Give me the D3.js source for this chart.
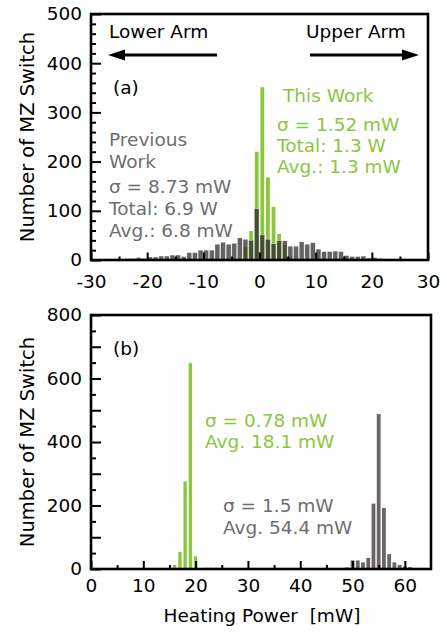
<!DOCTYPE html>
<html><head><meta charset="utf-8">
<script src="https://cdn.jsdelivr.net/npm/d3@7"></script>
<style>
body{margin:0;background:#fff;}
svg{display:block;font-family:"DejaVu Sans",sans-serif;}
</style></head><body>
<svg id="c" width="447" height="633"></svg>
<script>
// ---------- data (a): heating power difference, 1 mW bins (left edges) ----------
const binEdgesA = [-30,-29,-28,-27,-26,-25,-24,-23,-22,-21,-20,-19,-18,-17,-16,-15,-14,-13,-12,-11,
  -10,-9,-8,-7,-6,-5,-4,-3,-2,-1,0,1,2,3,4,5,6,7,8,9,10,11,12,13,14,15,16,17,18,19,
  20,21,22,23,24,25,26,27,28,29];
const prevWorkA = [0,2,2,0,2,2,3,3,5,3, 6,6,8,8,10, 10,7,15,15,20,
  20,20,32,36,32, 34,45,42,40,104, 51,42,33,39,39, 28,28,37,32,35,
  22,17,17,18,17, 9,7,7,8,4, 5,3,2,2,2, 2,0,1,2,0];
const thisWorkBinsA = [-3,-2,-1,0,1,2,3,4,5,7];
const thisWorkA = [27,59,220,351,168,108,53,30,6,2];
const xTicksA = [-30,-20,-10,0,10,20,30];
const yTicksA = [0,100,200,300,400,500];

// ---------- data (b): heating power, 1 mW bins (centres) ----------
const thisWorkPosB = [16,17,18,19,20,22,23,24,27];
const thisWorkB = [13,54,276,649,40,4,4,4,3];
const prevWorkPosB = [43,49,50,51,52,53,54,55,56,57,58,59,60,61];
const prevWorkB = [3,5,27,27,21,35,206,488,192,47,21,13,8,6];
const xTicksB = [0,10,20,30,40,50,60];
const yTicksB = [0,200,400,600,800];

const GREEN = "#8cc63f", DARK = "#231f20", GRAYBAR = "#6b6665", GRAYTXT = "#6d6e70";
const FONT = '"DejaVu Sans",sans-serif';
const FS = 18.5, FS_TICK = 18.5, FS_TITLE = 19.5;
const svg = d3.select("#c");

function frame(x0, y0, x1, y1) {
  svg.append("rect").attr("x", x0).attr("y", y0).attr("width", x1 - x0).attr("height", y1 - y0)
    .attr("fill", "none").attr("stroke", "#000").attr("stroke-width", 2.6);
}
function styleAxis(g) {
  g.select(".domain").remove();
  g.selectAll(".tick line").attr("stroke", "#000").attr("stroke-width", 2);
  g.selectAll(".tick text").attr("fill", "#000").style("font-size", FS_TICK + "px").style("font-family", FONT);
}

// ================= panel (a) =================
const xA = d3.scaleLinear().domain([-30, 30]).range([91, 428]);
const yA = d3.scaleLinear().domain([0, 500]).range([260, 14]);

const gA = svg.append("g");
gA.selectAll("rect.tw").data(thisWorkBinsA.map((b, i) => ({b, v: thisWorkA[i]}))).join("rect")
  .attr("x", d => xA(d.b + 0.5) - 1.9).attr("width", 3.8)
  .attr("y", d => yA(d.v)).attr("height", d => yA(0) - yA(d.v)).attr("fill", GREEN);
gA.selectAll("rect.pw").data(binEdgesA.map((b, i) => ({b, v: prevWorkA[i]})).filter(d => d.v > 0)).join("rect")
  .attr("x", d => xA(d.b) + 0.4).attr("width", d => xA(d.b + 1) - xA(d.b) - 0.8)
  .attr("y", d => yA(d.v)).attr("height", d => yA(0) - yA(d.v))
  .attr("fill", DARK).attr("fill-opacity", 0.7)
  .attr("stroke", "#fff").attr("stroke-opacity", 0.6).attr("stroke-width", 0.5);

// axes (a)
svg.append("g").attr("transform", `translate(0,${yA(0)})`)
  .call(d3.axisBottom(xA).tickValues([-25, -15, -5, 5, 15, 25]).tickSizeInner(-3.5).tickFormat(""))
  .call(styleAxis);
svg.append("g").attr("transform", `translate(0,${yA(0)})`)
  .call(d3.axisBottom(xA).tickValues(xTicksA).tickSizeInner(-7.5).tickPadding(15).tickFormat(d => String(d)))
  .call(styleAxis);
svg.append("g").attr("transform", `translate(${xA(-30)},0)`)
  .call(d3.axisLeft(yA).tickValues(d3.range(20, 500, 20).filter(v => v % 100)).tickSizeInner(-5).tickFormat(""))
  .call(styleAxis);
svg.append("g").attr("transform", `translate(${xA(-30)},0)`)
  .call(d3.axisLeft(yA).tickValues(yTicksA).tickSizeInner(-10).tickPadding(9))
  .call(styleAxis);
frame(xA(-30), yA(500), xA(30), yA(0));

// arrows
function arrow(xFrom, xTip, y) {
  const dir = Math.sign(xTip - xFrom);
  svg.append("line").attr("x1", xFrom).attr("x2", xTip - dir * 12).attr("y1", y).attr("y2", y)
    .attr("stroke", "#000").attr("stroke-width", 2.8);
  svg.append("path").attr("d", `M${xTip},${y} L${xTip - dir * 17},${y - 5.5} L${xTip - dir * 17},${y + 5.5} Z`).attr("fill", "#000");
}
arrow(217, 108, 55);
arrow(310, 419, 55);

function txt(x, y, s, color, anchor, fs) {
  svg.append("text").attr("x", x).attr("y", y).attr("fill", color || "#000")
    .attr("text-anchor", anchor || "start").style("font-size", (fs || FS) + "px")
    .style("white-space", "pre").text(s);
}
txt(109, 38, "Lower Arm");
txt(306, 38, "Upper Arm");
txt(113, 94, "(a)");
txt(283, 102, "This Work", GREEN);
txt(277, 131, "σ = 1.52 mW", GREEN);
txt(277, 152, "Total: 1.3 W", GREEN);
txt(277, 173, "Avg.: 1.3 mW", GREEN);
txt(109, 146, "Previous", GRAYTXT);
txt(109, 168, "Work", GRAYTXT);
txt(109, 193, "σ = 8.73 mW", GRAYTXT);
txt(109, 215, "Total: 6.9 W", GRAYTXT);
txt(109, 237, "Avg.: 6.8 mW", GRAYTXT);

// ================= panel (b) =================
const xB = d3.scaleLinear().domain([0, 65]).range([91, 431]);
const yB = d3.scaleLinear().domain([0, 800]).range([569, 315]);
const gB = svg.append("g");
gB.selectAll("rect.tw").data(thisWorkPosB.map((p, i) => ({p, v: thisWorkB[i]}))).join("rect")
  .attr("x", d => xB(d.p) - 1.7).attr("width", 3.4)
  .attr("y", d => yB(d.v)).attr("height", d => yB(0) - yB(d.v)).attr("fill", GREEN);
gB.selectAll("rect.pw").data(prevWorkPosB.map((p, i) => ({p, v: prevWorkB[i]}))).join("rect")
  .attr("x", d => xB(d.p) - 1.9).attr("width", 3.8)
  .attr("y", d => yB(d.v)).attr("height", d => yB(0) - yB(d.v)).attr("fill", GRAYBAR);

svg.append("g").attr("transform", `translate(0,${yB(0)})`)
  .call(d3.axisBottom(xB).tickValues([5, 15, 25, 35, 45, 55]).tickSizeInner(-4).tickFormat(""))
  .call(styleAxis);
svg.append("g").attr("transform", `translate(0,${yB(0)})`)
  .call(d3.axisBottom(xB).tickValues(xTicksB).tickSizeInner(-8).tickPadding(10).tickFormat(d => String(d)))
  .call(styleAxis);
svg.append("g").attr("transform", `translate(${xB(0)},0)`)
  .call(d3.axisLeft(yB).tickValues([50,150,250,350,450,550,650,750]).tickSizeInner(-5).tickFormat(""))
  .call(styleAxis);
svg.append("g").attr("transform", `translate(${xB(0)},0)`)
  .call(d3.axisLeft(yB).tickValues([100,300,500,700]).tickSizeInner(-10).tickFormat(""))
  .call(styleAxis);
svg.append("g").attr("transform", `translate(${xB(0)},0)`)
  .call(d3.axisLeft(yB).tickValues(yTicksB).tickSizeInner(-10).tickPadding(9))
  .call(styleAxis);
frame(xB(0), yB(800), xB(65), yB(0));

txt(113, 355, "(b)");
txt(205, 427, "σ = 0.78 mW", GREEN);
txt(205, 448, "Avg. 18.1 mW", GREEN);
txt(223, 512, "σ = 1.5 mW", GRAYTXT);
txt(223, 534, "Avg. 54.4 mW", GRAYTXT);

txt(262, 622, "Heating Power  [mW]", "#000", "middle");

// y titles
[[137], [442]].forEach(([cy]) => {
  svg.append("text").attr("transform", `translate(27,${cy}) rotate(-90)`).attr("dy", "0.35em")
    .attr("text-anchor", "middle").style("font-size", FS_TITLE + "px").attr("fill", "#000").text("Number of MZ Switch");
});
</script>
</body></html>
